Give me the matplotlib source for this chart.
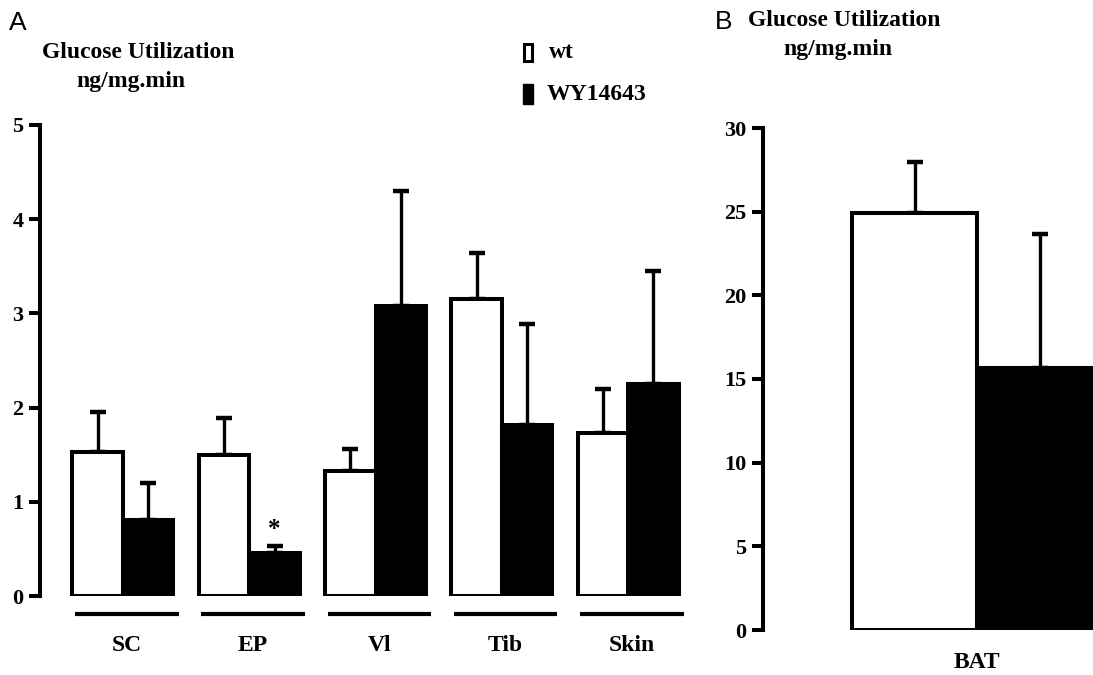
import numpy as np
import matplotlib
matplotlib.use("Agg")
import matplotlib.pyplot as plt
from matplotlib.patches import Rectangle

# Panel A data: glucose utilization (ng/mg.min)
tissues = ["SC", "EP", "Vl", "Tib", "Skin"]
wt_mean = [1.53, 1.50, 1.33, 3.15, 1.73]
wt_err = [0.42, 0.39, 0.23, 0.49, 0.47]
wy_mean = [0.81, 0.46, 3.08, 1.81, 2.25]
wy_err = [0.39, 0.07, 1.22, 1.08, 1.20]
a_ticks = [0, 1, 2, 3, 4, 5]

# Panel B data
bat_label = "BAT"
bat_wt_mean = 24.9
bat_wt_err = 3.05
bat_wy_mean = 15.65
bat_wy_err = 8.0
b_ticks = [0, 5, 10, 15, 20, 25, 30]

W, H = 1093, 675
SERIF = "Liberation Serif"
SANS = "Liberation Sans"
LW = 2.9
FS = 17


def fx(x):
    return x / W


def fy(y):
    return 1 - y / H


def style_axis(ax, ticks):
    for s in ["top", "right", "bottom"]:
        ax.spines[s].set_visible(False)
    ax.spines["left"].set_linewidth(LW)
    ax.spines["left"].set_capstyle("projecting")
    ax.set_yticks(ticks)
    ax.set_yticklabels([str(t) for t in ticks], fontfamily=SERIF,
                       fontweight="bold", fontsize=16)
    ax.tick_params(axis="y", length=8, width=LW, pad=4)
    ax.set_xticks([])


def draw_bars(ax, x, wt, wte, wy, wye, width):
    ax.bar(x - width / 2, wt, width, color="white", edgecolor="black",
           linewidth=LW, zorder=2)
    ax.bar(x + width / 2, wy, width, color="black", edgecolor="black",
           linewidth=LW, zorder=2)
    ax.errorbar(x - width / 2, wt, yerr=[np.zeros_like(np.atleast_1d(wte)), wte],
                fmt="none", ecolor="black", elinewidth=2.4, capsize=6,
                capthick=3.2, zorder=1)
    ax.errorbar(x + width / 2, wy, yerr=[np.zeros_like(np.atleast_1d(wye)), wye],
                fmt="none", ecolor="black", elinewidth=2.4, capsize=6,
                capthick=3.2, zorder=1)


fig = plt.figure(figsize=(W / 100, H / 100), dpi=100)

# ---- Panel A ----
unit_a = 126.3
left_a = 40
xa0, xa1 = -0.657, 4.49
axA = fig.add_axes([fx(left_a), fy(596), (xa1 - xa0) * unit_a / W, (596 - 125) / H])
xpos = np.arange(len(tissues))
bw = 0.4
draw_bars(axA, xpos, np.array(wt_mean), np.array(wt_err),
          np.array(wy_mean), np.array(wy_err), bw)
axA.set_xlim(xa0, xa1)
axA.set_ylim(0, 5)
style_axis(axA, a_ticks)

for i, name in enumerate(tissues):
    axA.plot([i - 0.38, i + 0.44], [-0.19, -0.19], color="black", lw=3,
             solid_capstyle="butt", clip_on=False)
    axA.text(i + 0.03, -0.53, name, ha="center", va="center",
             fontfamily=SERIF, fontweight="bold", fontsize=FS)

# significance mark on EP WY14643
ep = tissues.index("EP")
axA.text(ep + bw / 2, wy_mean[ep] + wy_err[ep] + 0.05, "*", ha="center",
         va="bottom", fontfamily=SERIF, fontweight="bold", fontsize=18)

# ---- Panel B ----
unit_b = 312.5
left_b = 763
xb0 = -0.685
xb1 = (W - left_b) / unit_b + xb0
axB = fig.add_axes([fx(left_b), fy(630), 1 - fx(left_b), (630 - 128) / H])
draw_bars(axB, np.array([0.0]), [bat_wt_mean], [bat_wt_err],
          [bat_wy_mean], [bat_wy_err], bw)
axB.set_xlim(xb0, xb1)
axB.set_ylim(0, 30)
style_axis(axB, b_ticks)
axB.text(0, -1.95, bat_label, ha="center", va="center", fontfamily=SERIF,
         fontweight="bold", fontsize=FS)

# ---- titles and panel letters ----
fig.text(fx(9), fy(23), "A", fontfamily=SANS, fontsize=19, va="center", ha="left")
fig.text(fx(138), fy(53), "Glucose Utilization", fontfamily=SERIF,
         fontweight="bold", fontsize=FS, ha="center", va="center")
fig.text(fx(131), fy(81), "ng/mg.min", fontfamily=SERIF,
         fontweight="bold", fontsize=FS, ha="center", va="center")

fig.text(fx(715), fy(22), "B", fontfamily=SANS, fontsize=19, va="center", ha="left")
fig.text(fx(844), fy(21), "Glucose Utilization", fontfamily=SERIF,
         fontweight="bold", fontsize=FS, ha="center", va="center")
fig.text(fx(838), fy(50), "ng/mg.min", fontfamily=SERIF,
         fontweight="bold", fontsize=FS, ha="center", va="center")

# ---- legend ----
fig.patches.append(Rectangle((fx(524), fy(61)), 8 / W, 17 / H, transform=fig.transFigure,
                             facecolor="white", edgecolor="black", linewidth=2.2))
fig.patches.append(Rectangle((fx(523), fy(104)), 10 / W, 20 / H, transform=fig.transFigure,
                             facecolor="black", edgecolor="black", linewidth=1))
fig.text(fx(549), fy(52), "wt", fontfamily=SERIF, fontweight="bold",
         fontsize=FS, ha="left", va="center")
fig.text(fx(547), fy(95), "WY14643", fontfamily=SERIF, fontweight="bold",
         fontsize=FS, ha="left", va="center")

fig.savefig("out.png", dpi=100)
